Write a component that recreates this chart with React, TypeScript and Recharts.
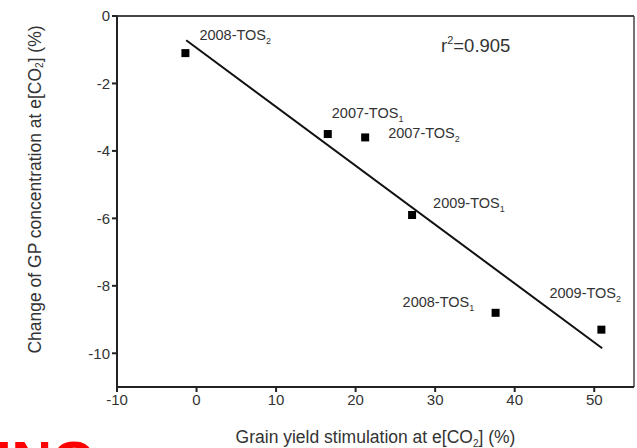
import React from 'react';
import {
  ComposedChart,
  Scatter,
  Line,
  XAxis,
  YAxis,
  ReferenceLine,
  Label,
} from 'recharts';

// observed points (yield stimulation %, GP change %)
const seasons = ['2008-TOS2', '2007-TOS1', '2007-TOS2', '2009-TOS1', '2008-TOS1', '2009-TOS2'];
const yieldStim = [-1.4, 16.5, 21.2, 27.1, 37.6, 50.9];
const gpChange = [-1.1, -3.5, -3.6, -5.9, -8.8, -9.3];

// fitted regression line, end points
const fitX = [-1.3, 51];
const fitY = [-0.72, -9.85];

const xTicks = [-10, 0, 10, 20, 30, 40, 50];
const yTicks = [0, -2, -4, -6, -8, -10];

const points = seasons.map((name, i) => ({ name, x: yieldStim[i], y: gpChange[i] }));
const fitData = fitX.map((x, i) => ({ x, y: fitY[i] }));

const FONT = '"Liberation Sans", Arial, sans-serif';

// where each label sits relative to its marker
const labelPos: Record<string, [number, number]> = {
  '2008-TOS2': [14, -13],
  '2007-TOS1': [4, -16],
  '2007-TOS2': [23, 1],
  '2009-TOS1': [21, -7],
  '2008-TOS1': [-93, -6],
  '2009-TOS2': [-52, -32],
};

const PointShape = (props: any) => {
  const { cx, cy, payload } = props;
  const name: string = payload.name;
  const [dx, dy] = labelPos[name] || [8, -8];
  return (
    <g>
      <rect x={cx - 4} y={cy - 4} width={8} height={8} fill="#000" />
      <text x={cx + dx} y={cy + dy} fontSize={14.5} fill="#333" fontFamily={FONT}>
        {name.slice(0, -1)}
        <tspan dy={4} fontSize={9}>{name.slice(-1)}</tspan>
      </text>
    </g>
  );
};

const YTitle = (props: any) => {
  const { viewBox } = props;
  const cx = 35;
  const cy = viewBox.y + viewBox.height / 2 - 12;
  return (
    <text
      x={cx}
      y={cy}
      transform={`rotate(-90, ${cx}, ${cy})`}
      textAnchor="middle"
      dominantBaseline="central"
      fontSize={17.5}
      fill="#333"
      fontFamily={FONT}
    >
      Change of GP concentration at e[CO
      <tspan dy={4} fontSize={10}>2</tspan>
      <tspan dy={-4}>] (%)</tspan>
    </text>
  );
};

const XTitle = (props: any) => {
  const { viewBox } = props;
  const cx = viewBox.x + viewBox.width / 2;
  return (
    <text x={cx} y={443} textAnchor="middle" fontSize={17.5} fill="#333" fontFamily={FONT}>
      Grain yield stimulation at e[CO
      <tspan dy={4} fontSize={10}>2</tspan>
      <tspan dy={-4}>] (%)</tspan>
    </text>
  );
};

const RSquared = (props: any) => (
  <text x={441} y={52} fontSize={18.5} fill="#333" fontFamily={FONT}>
    r<tspan dy={-8} fontSize={11}>2</tspan>
    <tspan dy={8}>=0.905</tspan>
  </text>
);

export default function App() {
  return (
    <div
      style={{
        position: 'absolute',
        left: 0,
        top: 0,
        width: 637,
        height: 448,
        overflow: 'hidden',
        background: '#fff',
      }}
    >
      <ComposedChart
        width={637}
        height={448}
        margin={{ top: 16, right: 3, left: 0, bottom: 0 }}
      >
        <XAxis
          type="number"
          dataKey="x"
          domain={[-10, 55]}
          ticks={xTicks}
          allowDataOverflow
          height={61}
          stroke="#222"
          strokeWidth={2}
          tickSize={5}
          tick={{ fontSize: 15, fill: '#333', fontFamily: FONT }}
        >
          <Label content={<XTitle />} />
        </XAxis>
        <YAxis
          type="number"
          dataKey="y"
          domain={[-11, 0]}
          ticks={yTicks}
          allowDataOverflow
          width={117}
          stroke="#222"
          strokeWidth={2}
          tickSize={5}
          tick={{ fontSize: 15, fill: '#333', fontFamily: FONT }}
        >
          <Label content={<YTitle />} />
        </YAxis>
        <ReferenceLine y={0} stroke="#444" strokeWidth={2} />
        <ReferenceLine x={55} stroke="#444" strokeWidth={1.5} />
        <Line
          data={fitData}
          dataKey="y"
          type="linear"
          stroke="#111"
          strokeWidth={2}
          dot={false}
          activeDot={false}
          isAnimationActive={false}
        />
        <Scatter data={points} shape={<PointShape />} isAnimationActive={false} />
        <ReferenceLine y={0} stroke="none" label={<RSquared />} />
      </ComposedChart>
      <div
        style={{
          position: 'absolute',
          left: -4,
          top: 433,
          color: '#f00',
          fontFamily: FONT,
          fontWeight: 'bold',
          fontSize: 56,
          lineHeight: '56px',
          whiteSpace: 'nowrap',
        }}
      >
        ING
      </div>
    </div>
  );
}
